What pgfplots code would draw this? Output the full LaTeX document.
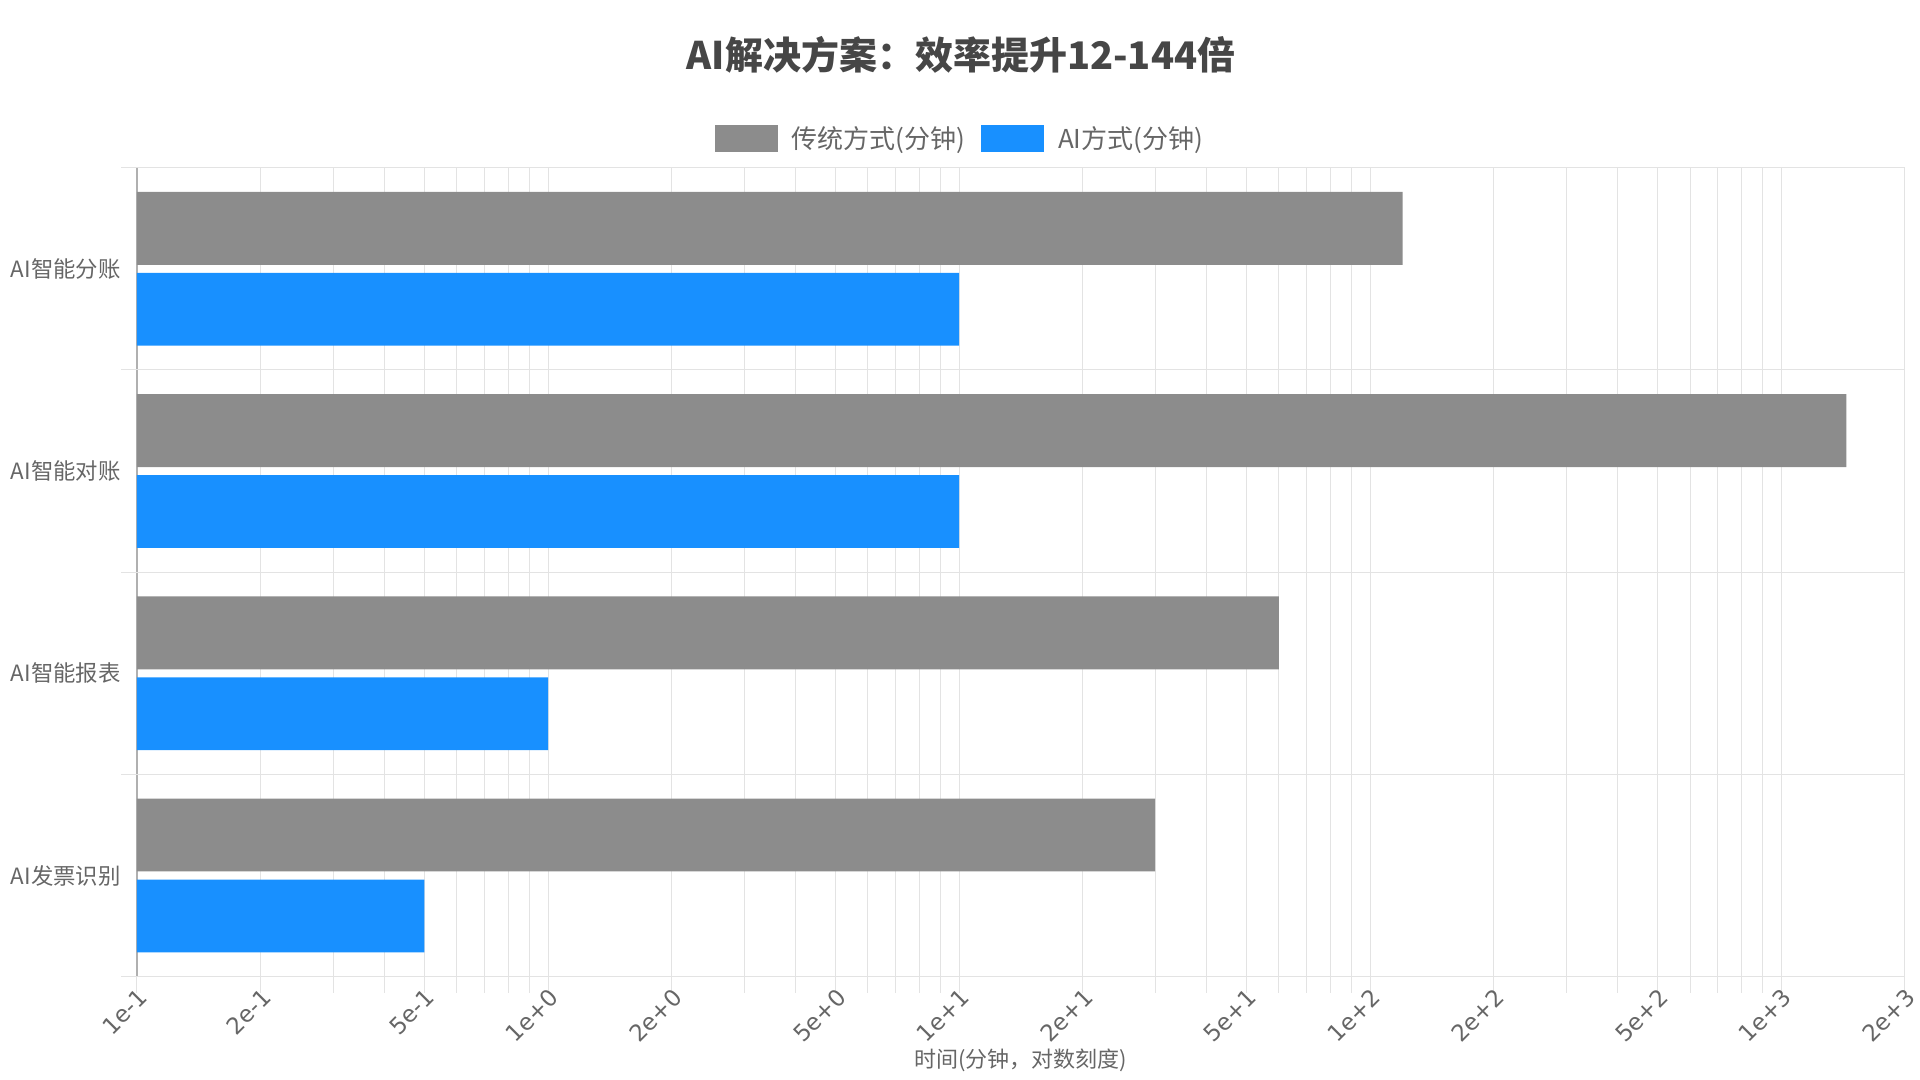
\documentclass[border=0pt]{standalone}
\usepackage{pgfplots}
\pgfplotsset{compat=1.18}
\usepackage{fontspec}
\setmainfont{Noto Sans CJK SC}
\newfontfamily\tickfont{DejaVu Sans}
\definecolor{grayBar}{HTML}{8C8C8C}
\definecolor{blueBar}{HTML}{1890FF}
\definecolor{txt}{HTML}{666666}
\definecolor{ttl}{HTML}{464646}
\definecolor{gridc}{HTML}{E3E3E3}
\definecolor{axc}{HTML}{C8C8C8}
\definecolor{axy}{HTML}{B0B0B0}
\begin{document}
\begin{tikzpicture}[x=1pt,y=1pt]
\path (0,0) rectangle (960,540);
\begin{axis}[
  at={(68.5pt,51.65pt)}, anchor=south west,
  scale only axis, width=884pt, height=404.5pt,
  xmode=log, log origin x=infty, log basis x=10,
  xmin=0.1, xmax=2000, ymin=-0.5, ymax=3.5,
  xbar, bar width=0.36,
  xtick={0.1,0.2,0.5,1,2,5,10,20,50,100,200,500,1000,2000},
  xticklabels={1e-1,2e-1,5e-1,1e+0,2e+0,5e+0,1e+1,2e+1,5e+1,1e+2,2e+2,5e+2,1e+3,2e+3},
  minor xtick={0.3,0.4,0.6,0.7,0.8,0.9,3,4,6,7,8,9,30,40,60,70,80,90,300,400,600,700,800,900},
  ytick={0,1,2,3},
  yticklabels={AI发票识别,AI智能报表,AI智能对账,AI智能分账},
  ytick style={draw=none},
  extra y ticks={-0.5,0.5,1.5,2.5,3.5},
  extra y tick labels={},
  extra y tick style={grid=major, ytick style={draw=gridc, line width=0.5pt}},
  xmajorgrids, xminorgrids,
  grid style={draw=gridc, line width=0.5pt},
  major grid style={draw=gridc, line width=0.5pt},
  minor grid style={draw=gridc, line width=0.5pt},
  tick align=outside, major tick length=8pt, minor tick length=8pt,
  xtick style={draw=gridc, line width=0.5pt},
  tick pos=left,
  separate axis lines,
  axis x line*=box, axis y line*=left,
  x axis line style={draw=axc, line width=0.8pt},
  y axis line style={draw=axy, line width=0.6pt},
  xticklabel style={font=\tickfont\fontsize{11.5}{13}\selectfont, text=txt, rotate=45, anchor=east, inner sep=1pt, yshift=-2.5pt, xshift=3pt},
  yticklabel style={font=\fontsize{11.2}{13}\selectfont, text=txt, inner sep=0pt, xshift=0pt},
  xlabel={时间(分钟，对数刻度)},
  xlabel style={at={(axis description cs:0.5,-0.1035)}, anchor=center, font=\fontsize{11}{13}\selectfont, text=txt},
  legend columns=2,
  legend cell align=left,
  legend style={at={(0.466,1.036)}, anchor=center, draw=none, fill=none,
    font=\fontsize{13}{15}\selectfont, text=txt,
    /tikz/every odd column/.append style={column sep=5pt},
    /tikz/every even column/.append style={column sep=6pt}},
]
\addplot[xbar, fill=grayBar, draw=none, bar shift=0.2,
  legend image code/.code={\fill[grayBar] (0pt,-6.75pt) rectangle (31.5pt,6.75pt);}]
  coordinates {(120,3) (1440,2) (60,1) (30,0)};
\addlegendentry{传统方式(分钟)}
\addplot[xbar, fill=blueBar, draw=none, bar shift=-0.2,
  legend image code/.code={\fill[blueBar] (0pt,-6.75pt) rectangle (31.5pt,6.75pt);}]
  coordinates {(10,3) (10,2) (1,1) (0.5,0)};
\addlegendentry{AI方式(分钟)}
\end{axis}
\node[font=\fontsize{19}{22}\selectfont\bfseries, text=ttl] at (480.5,512.5) {AI解决方案：效率提升12-144倍};
\end{tikzpicture}
\end{document}
